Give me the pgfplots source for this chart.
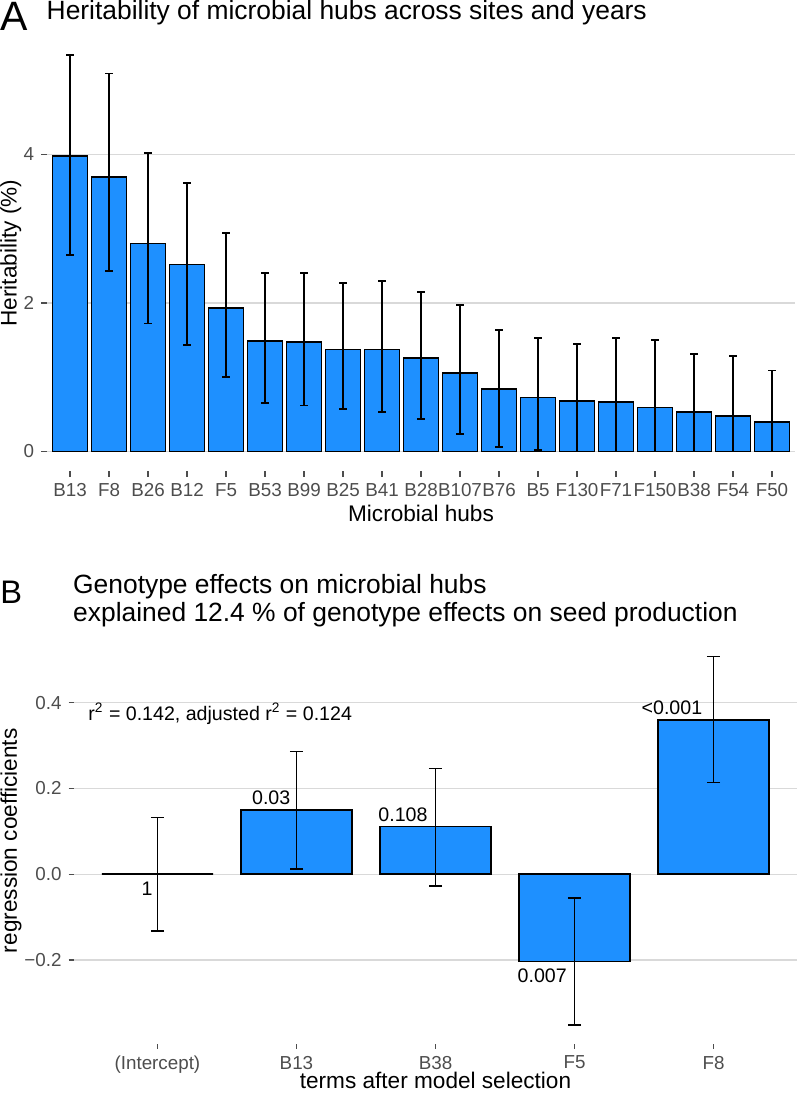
\documentclass[border=0pt]{standalone}
\usepackage{pgfplots}
\pgfplotsset{compat=1.18}
\usepackage{fontspec}
\setmainfont{Liberation Sans}

\definecolor{dodger}{RGB}{30,144,255}
\definecolor{gridgrey}{RGB}{217,217,217}
\definecolor{tickgrey}{RGB}{77,77,77}

% heritability per hub: value, upper and lower error
\pgfplotstableread{
x  y     ep    em
0  3.98  1.36  1.335
1  3.70  1.39  1.27
2  2.80  1.22  1.075
3  2.52  1.10  1.09
4  1.935 1.005 0.935
5  1.49  0.91  0.84
6  1.475 0.925 0.855
7  1.375 0.895 0.80
8  1.375 0.925 0.845
9  1.26  0.89  0.82
10 1.06  0.91  0.825
11 0.84  0.795 0.775
12 0.725 0.805 0.705
13 0.68  0.77  0.68
14 0.666 0.864 0.666
15 0.595 0.91  0.595
16 0.536 0.774 0.536
17 0.478 0.812 0.478
18 0.397 0.696 0.397
}\heritab

% regression coefficients
\pgfplotstableread{
x y      ep    em
0 0.000  0.132 0.132
1 0.150  0.136 0.138
2 0.111  0.136 0.138
3 -0.204 0.148 0.148
4 0.360  0.148 0.146
}\regtab

\pgfplotsset{
  gg/.style={
    scale only axis,
    axis line style={draw=none},
    tick align=outside,
    xtick pos=bottom, ytick pos=left,
    major tick length=2.7pt,
    tick style={tickgrey, line width=0.6pt},
    ymajorgrids,
    grid style={gridgrey, line width=0.6pt},
    tick label style={font=\fontsize{9.4}{10}\selectfont, text=tickgrey},
    /pgf/number format/assume math mode=true,
  },
}

\begin{document}
\begin{tikzpicture}
\useasboundingbox (0,0) rectangle (398.5pt,-546.5pt);

\begin{axis}[gg,
  at={(23.3pt,-17.5pt)}, anchor=north west,
  width=374.4pt, height=218.15pt,
  xmin=-0.6, xmax=18.6, ymin=-0.267, ymax=5.61,
  ytick={0,2,4},
  xtick={0,...,18},
  xticklabels={B13,F8,B26,B12,F5,B53,B99,B25,B41,B28,B107,B76,B5,F130,F71,F150,B38,F54,F50},
  ybar, bar width=0.9,
]
\addplot[fill=dodger, draw=black, line width=0.8pt,
  error bars/.cd, y dir=both, y explicit,
  error bar style={black, line width=0.85pt},
  error mark options={rotate=90, black, line width=0.85pt, mark size=1.8pt}]
  table[x=x, y=y, y error plus=ep, y error minus=em] {\heritab};
\end{axis}

\begin{axis}[gg,
  at={(37pt,-319pt)}, anchor=north west,
  width=361.5pt, height=202.75pt,
  xmin=-0.6, xmax=4.6, ymin=-0.395, ymax=0.551,
  ytick={-0.2,0,0.2,0.4},
  yticklabels={−0.2,0.0,0.2,0.4},
  xtick={0,...,4},
  xticklabels={(Intercept),B13,B38,F5,F8},
  ybar, bar width=0.8,
]
\addplot[fill=dodger, draw=black, line width=0.75pt,
  error bars/.cd, y dir=both, y explicit,
  error bar style={black, line width=0.75pt},
  error mark options={rotate=90, black, line width=0.75pt, mark size=3.3pt}]
  table[x=x, y=y, y error plus=ep, y error minus=em] {\regtab};
\begin{scope}[every node/.style={font=\fontsize{9.8}{11}\selectfont, inner sep=0pt}]
\node[anchor=north east, xshift=-2.3pt, yshift=-3.7pt] at (axis cs:0,0) {1};
\node[anchor=base east, xshift=-2.9pt, yshift=2.5pt] at (axis cs:1,0.150) {0.03};
\node[anchor=base east, xshift=-3.8pt, yshift=2.5pt] at (axis cs:2,0.111) {0.108};
\node[anchor=north east, xshift=-3.7pt, yshift=-3.3pt] at (axis cs:3,-0.204) {0.007};
\node[anchor=base east, xshift=-5.5pt, yshift=2.5pt] at (axis cs:4,0.360) {<0.001};
\end{scope}
\end{axis}

% panel letters and titles
\node[anchor=base west, inner sep=0pt, font=\fontsize{20.5}{24}\selectfont] at (0pt,-15.35pt) {A};
\node[anchor=base west, inner sep=0pt, font=\fontsize{13.2}{15}\selectfont] at (23.15pt,-9.65pt) {Heritability of microbial hubs across sites and years};
\node[anchor=base west, inner sep=0pt, font=\fontsize{16.3}{19}\selectfont] at (0pt,-301.65pt) {B};
\node[anchor=base west, inner sep=0pt, font=\fontsize{13.2}{15}\selectfont] at (36.4pt,-296.65pt) {Genotype effects on microbial hubs};
\node[anchor=base west, inner sep=0pt, font=\fontsize{13.2}{15}\selectfont] at (36.4pt,-310.85pt) {explained 12.4 \% of genotype effects on seed production};
\node[anchor=base west, inner sep=0pt, font=\fontsize{9.8}{11}\selectfont] at (44pt,-360pt) {r\textsuperscript{2} = 0.142, adjusted r\textsuperscript{2} = 0.124};

% axis titles
\node[anchor=base, inner sep=0pt, font=\fontsize{11.3}{13}\selectfont] at (210.5pt,-260.5pt) {Microbial hubs};
\node[anchor=base, inner sep=0pt, font=\fontsize{11.3}{13}\selectfont] at (217.75pt,-544.3pt) {terms after model selection};
\node[anchor=base, rotate=90, inner sep=0pt, font=\fontsize{11.3}{13}\selectfont] at (8.35pt,-126.5pt) {Heritability (\%)};
\node[anchor=base, rotate=90, inner sep=0pt, font=\fontsize{11.3}{13}\selectfont] at (8.5pt,-420.4pt) {regression coefficients};
\end{tikzpicture}
\end{document}
